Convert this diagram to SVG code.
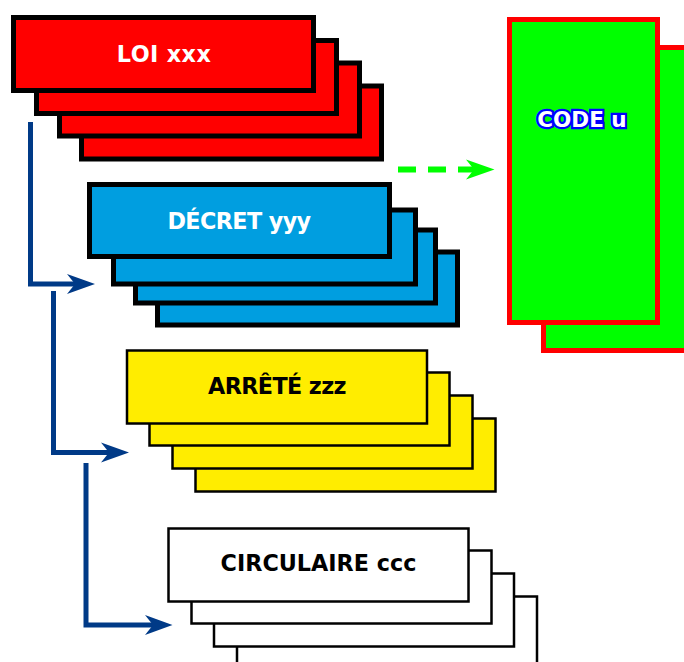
<svg xmlns="http://www.w3.org/2000/svg" width="684" height="662" viewBox="0 0 684 662">
<style>
text{font-family:"DejaVu Sans",sans-serif;font-weight:bold;font-size:22.3px;text-anchor:middle}
.loi rect{fill:#f00;stroke:#000;stroke-width:5}
.dec rect{fill:#009ee0;stroke:#000;stroke-width:5}
.arr rect{fill:#ffed00;stroke:#000;stroke-width:2.5}
.cir rect{fill:#fff;stroke:#000;stroke-width:2.5}
.code rect{fill:#0f0;stroke:#f00;stroke-width:5}
.w{fill:#fff}.k{fill:#000}
.c{fill:#fff;stroke:#00f;stroke-width:4.500;paint-order:stroke;stroke-linejoin:miter;font-size:21.5px}
.blue{fill:none;stroke:#003a87;stroke-width:5}
.bh{fill:#003a87}
</style>
<g id="code">
<g class="code"><rect x="543.500" y="47.500" width="148" height="303"/><rect x="509.500" y="19.500" width="148" height="303"/></g>
<text class="c" x="582" y="127">CODE u</text>
</g>
<g id="loi" class="loi">
<rect x="81.500" y="86" width="300" height="73"/><rect x="59.500" y="63" width="300" height="73"/><rect x="36.500" y="40.500" width="300" height="73"/><rect x="13.500" y="17.500" width="300" height="73"/>
<text class="w" x="164" y="62" letter-spacing="0.4">LOI xxx</text>
</g>
<g id="decret" class="dec">
<rect x="157.500" y="252" width="300" height="73"/><rect x="135.500" y="230" width="300" height="73"/><rect x="113.500" y="210" width="302" height="74"/><rect x="89.500" y="184.500" width="300" height="72"/>
<text class="w" x="239" y="229" letter-spacing="-0.6">DÉCRET yyy</text>
</g>
<g id="arrete" class="arr">
<rect x="195.500" y="418.500" width="300" height="73"/><rect x="172.500" y="395.500" width="300" height="73"/><rect x="149.500" y="372.500" width="300" height="73"/><rect x="127" y="350.500" width="300" height="73"/>
<text class="k" x="277" y="394" letter-spacing="-0.6">ARRÊTÉ zzz</text>
</g>
<g id="circulaire" class="cir">
<rect x="237" y="596.500" width="300" height="73"/><rect x="214" y="573.500" width="300" height="73"/><rect x="191.500" y="550.500" width="300" height="73"/><rect x="168.500" y="528.500" width="300" height="73"/>
<text class="k" x="318.500" y="571">CIRCULAIRE ccc</text>
</g>
<g id="connectors">
<path class="blue" d="M30.500 122V284H80"/><path class="bh" d="M95 284L67 274L75 284L67 294Z"/>
<path class="blue" d="M53.500 291V452.500H114"/><path class="bh" d="M129 452.500L101 442.500L109 452.500L101 462.500Z"/>
<path class="blue" d="M86 463V625H158"/><path class="bh" d="M172.500 625L145 615L153 625L145 635Z"/>
<path d="M398 169.500H480" fill="none" stroke="#0f0" stroke-width="6" stroke-dasharray="18 12"/><path d="M494.500 169.500L466 159.500L474 169.500L466 179.500Z" fill="#0f0"/>
</g>
</svg>
